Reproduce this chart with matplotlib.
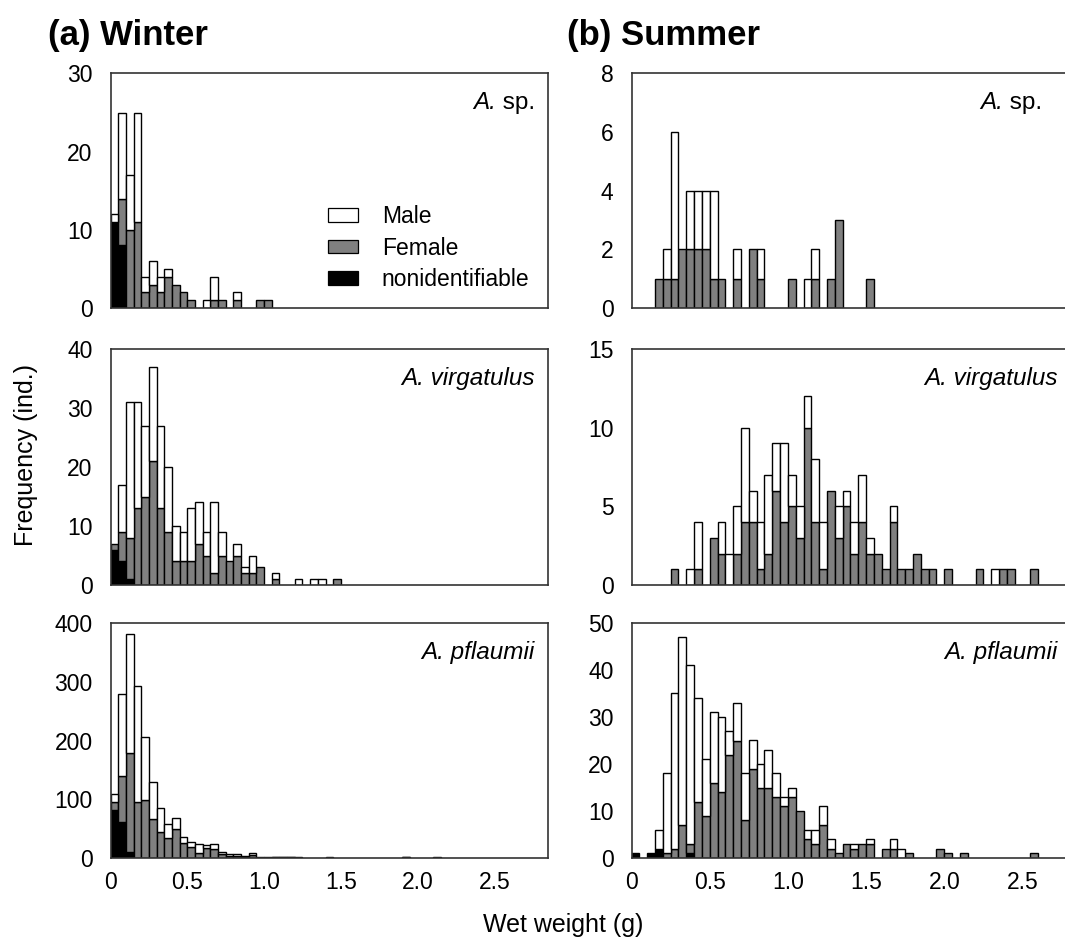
import numpy as np
import matplotlib
matplotlib.use("Agg")
import matplotlib.pyplot as plt
from matplotlib.patches import Patch
from matplotlib.offsetbox import TextArea, HPacker, AnchoredOffsetbox

plt.rcParams['font.family'] = ['Liberation Sans', 'DejaVu Sans']

BIN = 0.05  # wet weight class width (g)

# counts per weight class, index i = [0.05*i, 0.05*(i+1))
winter_sp_nonid = [11, 8]
winter_sp_female = [0, 6, 10, 11, 2, 3, 2, 4, 3, 2, 1, 0, 0, 1, 1, 0, 1, 0, 0, 1, 1]
winter_sp_male = [1, 11, 7, 14, 2, 3, 2, 1, 0, 0, 0, 0, 1, 3, 0, 0, 1]

summer_sp_nonid = []
summer_sp_female = [0, 0, 0, 1, 1, 1, 2, 2, 2, 2, 1, 1, 0, 1, 0, 2, 1, 0, 0, 0,
                    1, 0, 0, 1, 0, 1, 3, 0, 0, 0, 1]
summer_sp_male = [0, 0, 0, 0, 1, 5, 0, 2, 2, 2, 3, 0, 0, 1, 0, 0, 1, 0, 0, 0,
                  0, 0, 1, 1]

winter_vir_nonid = [6, 4, 1]
winter_vir_female = [1, 5, 7, 13, 15, 21, 13, 9, 4, 4, 4, 7, 5, 2, 5, 4, 5, 2, 2, 3,
                     0, 1, 0, 0, 0, 0, 0, 0, 0, 1]
winter_vir_male = [0, 8, 23, 18, 12, 16, 14, 11, 6, 5, 9, 7, 4, 12, 4, 0, 2, 1, 3, 0,
                   0, 1, 0, 0, 1, 0, 1, 1]

summer_vir_nonid = []
summer_vir_female = [0, 0, 0, 0, 0, 1, 0, 0, 1, 0, 3, 2, 0, 2, 4, 4, 1, 2, 6, 4,
                     5, 3, 10, 4, 1, 6, 3, 5, 2, 4, 2, 2, 1, 4, 1, 1, 2, 1, 1, 0,
                     1, 0, 0, 0, 1, 0, 0, 1, 1, 0, 0, 1]
summer_vir_male = [0, 0, 0, 0, 0, 0, 0, 1, 3, 0, 0, 2, 2, 3, 6, 2, 3, 5, 3, 5,
                   2, 2, 2, 4, 3, 0, 2, 1, 2, 3, 1, 0, 0, 1, 0, 0, 0, 0, 0, 0,
                   0, 0, 0, 0, 0, 0, 1]

winter_pfl_nonid = [82, 61, 11]
winter_pfl_female = [14, 79, 167, 95, 99, 66, 44, 34, 50, 25, 18, 8, 17, 16, 7, 4, 4, 2, 5, 1,
                     1, 1, 1, 1, 1, 0, 0, 0, 1, 0, 0, 0, 0, 0, 0, 0, 0, 0, 1, 0,
                     0, 0, 1]
winter_pfl_male = [13, 139, 203, 197, 107, 64, 41, 24, 18, 11, 9, 16, 5, 7, 4, 3, 3, 1, 3, 0,
                   0, 1, 1, 1, 0, 0, 0, 0, 0, 0, 0, 0, 0, 0, 0, 0, 0, 0, 1]

summer_pfl_nonid = [1, 0, 1, 2, 0, 0, 0, 1]
summer_pfl_female = [0, 0, 0, 0, 1, 2, 7, 2, 12, 9, 16, 14, 22, 25, 8, 19, 15, 15, 13, 11,
                     13, 10, 4, 3, 7, 2, 1, 3, 2, 3, 3, 0, 2, 2, 0, 1, 0, 0, 0, 2,
                     1, 0, 1, 0, 0, 0, 0, 0, 0, 0, 0, 1]
summer_pfl_male = [0, 0, 0, 4, 17, 33, 40, 38, 22, 12, 15, 16, 5, 8, 10, 6, 5, 8, 5, 2,
                   2, 0, 2, 3, 4, 2, 0, 0, 1, 0, 1, 0, 0, 2, 2]

# species name: (italic part, upright part)
species_labels = [('A.', ' sp.'), ('A. virgatulus', ''), ('A. pflaumii', '')]
y_limits = [(30, 8), (40, 15), (400, 50)]
y_ticks = [(np.arange(0, 31, 10), np.arange(0, 9, 2)),
           (np.arange(0, 41, 10), np.arange(0, 16, 5)),
           (np.arange(0, 401, 100), np.arange(0, 51, 10))]
x_ticks = [0, 0.5, 1.0, 1.5, 2.0, 2.5]
x_tick_labels = ['0', '0.5', '1.0', '1.5', '2.0', '2.5']

data = [
    [(winter_sp_nonid, winter_sp_female, winter_sp_male),
     (summer_sp_nonid, summer_sp_female, summer_sp_male)],
    [(winter_vir_nonid, winter_vir_female, winter_vir_male),
     (summer_vir_nonid, summer_vir_female, summer_vir_male)],
    [(winter_pfl_nonid, winter_pfl_female, winter_pfl_male),
     (summer_pfl_nonid, summer_pfl_female, summer_pfl_male)],
]

W, H = 1065, 947
fig = plt.figure(figsize=(W / 100, H / 100), dpi=100)

# axes boxes in pixels: (left, right) per column, (top, bottom) per row
col_px = [(110.7, 548.0), (631.5, 1071.0)]
col_xmax = [2.85, 2.81]
row_px = [(73.5, 308.0), (349.0, 585.0), (623.0, 858.0)]

FS = 16.5
colors = ['black', '#808080', 'white']


def pad(values, n):
    arr = np.zeros(n)
    arr[:len(values)] = values
    return arr


for r in range(3):
    for c in range(2):
        l, rr = col_px[c]
        t, b = row_px[r]
        ax = fig.add_axes([l / W, 1 - b / H, (rr - l) / W, (b - t) / H])
        nonid, female, male = data[r][c]
        n = max(len(nonid), len(female), len(male))
        edges = np.arange(n) * BIN
        bottom = np.zeros(n)
        for vals, col in zip((nonid, female, male), colors):
            v = pad(vals, n)
            m = v > 0
            ax.bar(edges[m], v[m], width=BIN, bottom=bottom[m], align='edge',
                   color=col, edgecolor='black', linewidth=1.0, zorder=2)
            bottom += v
        ax.set_xlim(0, col_xmax[c])
        ax.set_ylim(0, y_limits[r][c])
        ax.set_yticks(y_ticks[r][c])
        ax.set_xticks(x_ticks)
        if r == 2:
            ax.set_xticklabels(x_tick_labels)
        else:
            ax.set_xticklabels([])
        ax.tick_params(length=0, labelsize=FS)
        ax.tick_params(axis='y', pad=13)
        ax.tick_params(axis='x', pad=9)
        for sp in ax.spines.values():
            sp.set_color('#333333')
            sp.set_linewidth(1.2)

        # species name, genus initial italic
        ital, upright = species_labels[r]
        parts = [TextArea(ital, textprops=dict(fontsize=FS + 1, style='italic'))]
        if upright:
            parts.append(TextArea(upright, textprops=dict(fontsize=FS + 1)))
        box = HPacker(children=parts, pad=0, sep=0)
        xr = 0.97 if not (r == 0 and c == 1) else 0.935
        anch = AnchoredOffsetbox(loc='center right', child=box, frameon=False,
                                 bbox_to_anchor=(xr, 0.875),
                                 bbox_transform=ax.transAxes, pad=0, borderpad=0)
        ax.add_artist(anch)

        if r == 0 and c == 0:
            handles = [Patch(facecolor='white', edgecolor='black', linewidth=0.9),
                       Patch(facecolor='#808080', edgecolor='black', linewidth=0.9),
                       Patch(facecolor='black', edgecolor='black', linewidth=0.9)]
            ax.legend(handles, ['Male', 'Female', 'nonidentifiable'],
                      loc='center left', bbox_to_anchor=(0.497, 0.255),
                      frameon=False, fontsize=FS, handlelength=1.3,
                      handleheight=0.55, handletextpad=1.05, labelspacing=0.38,
                      borderpad=0, borderaxespad=0)

fig.text(0.045, 0.962, '(a) Winter', fontsize=25, fontweight='bold', va='center')
fig.text(0.532, 0.962, '(b) Summer', fontsize=25, fontweight='bold', va='center')
fig.text(0.024, 0.52, 'Frequency (ind.)', rotation=90, fontsize=18,
         ha='center', va='center')
fig.text(0.529, 0.023, 'Wet weight (g)', fontsize=18, ha='center', va='center')

fig.savefig('out.png', dpi=100)
